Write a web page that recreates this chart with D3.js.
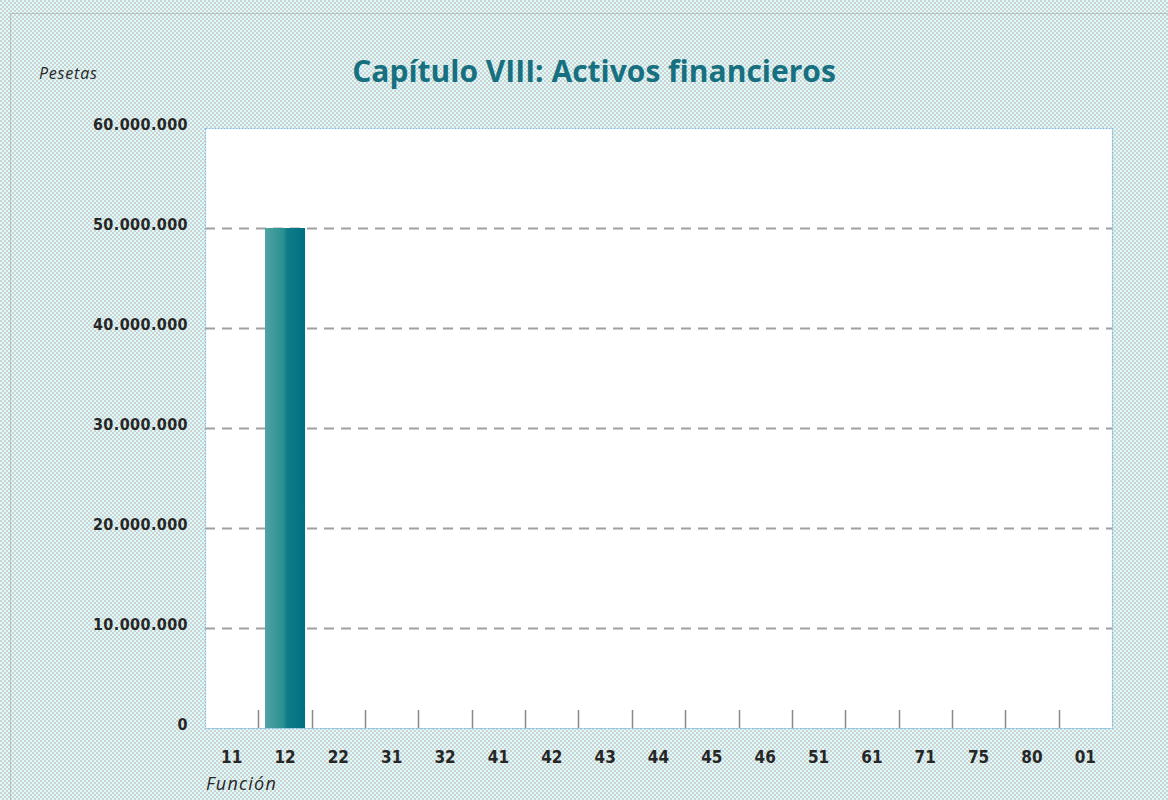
<!DOCTYPE html>
<html>
<head>
<meta charset="utf-8">
<script src="https://cdn.jsdelivr.net/npm/d3@7"></script>
<style>
  body { margin: 0; background: #fff; }
  svg { display: block; }
</style>
</head>
<body>
<svg id="chart" width="1168" height="800"></svg>
<script>
// data
var funciones = ["11", "12", "22", "31", "32", "41", "42", "43", "44", "45", "46", "51", "61", "71", "75", "80", "01"];
var pesetas = [0, 50000000, 0, 0, 0, 0, 0, 0, 0, 0, 0, 0, 0, 0, 0, 0, 0];
var yTicks = [0, 10000000, 20000000, 30000000, 40000000, 50000000, 60000000];

var svg = d3.select("#chart"),
    margin = {top: 128, right: 56, bottom: 72, left: 205},
    width = +svg.attr("width") - margin.left - margin.right,
    height = +svg.attr("height") - margin.top - margin.bottom;

var defs = svg.append("defs");

// checkered background
var pat = defs.append("pattern")
    .attr("id", "checks")
    .attr("width", 4)
    .attr("height", 4)
    .attr("patternUnits", "userSpaceOnUse");
pat.append("rect").attr("width", 4).attr("height", 4).attr("fill", "#dcfcfc");
pat.append("rect").attr("width", 2).attr("height", 2).attr("fill", "#d0d2d2");
pat.append("rect").attr("x", 2).attr("y", 2).attr("width", 2).attr("height", 2).attr("fill", "#d0d2d2");

var grad = defs.append("linearGradient")
    .attr("id", "barGrad")
    .attr("x1", "0%").attr("x2", "100%").attr("y1", "0%").attr("y2", "0%");
grad.append("stop").attr("offset", "0%").attr("stop-color", "#4fa3a3");
grad.append("stop").attr("offset", "45%").attr("stop-color", "#2b9191");
grad.append("stop").attr("offset", "55%").attr("stop-color", "#0f7d88");
grad.append("stop").attr("offset", "100%").attr("stop-color", "#006f80");

svg.append("rect")
    .attr("width", 1168).attr("height", 800)
    .attr("fill", "url(#checks)");

// outer dotted frame
svg.append("rect")
    .attr("x", 10.5).attr("y", 13.5)
    .attr("width", 1170).attr("height", 800)
    .attr("fill", "none")
    .attr("stroke", "#9a9a9a")
    .attr("stroke-dasharray", "1,1");

var g = svg.append("g").attr("transform", "translate(" + margin.left + "," + margin.top + ")");

var x = d3.scaleBand()
    .domain(funciones)
    .range([0, width])
    .paddingInner(0.25)
    .paddingOuter(0.125);

var xb = d3.scaleBand().domain(funciones).range([0, width]);

var y = d3.scaleLinear()
    .domain([0, 60000000])
    .range([height, 0]);

g.append("rect")
    .attr("width", width)
    .attr("height", height)
    .attr("fill", "#fff");

// gridlines
g.append("g")
  .selectAll("line")
  .data(yTicks.slice(1, -1))
  .enter().append("line")
    .attr("x1", 0)
    .attr("x2", width)
    .attr("y1", function(d) { return Math.round(y(d)) + 0.5; })
    .attr("y2", function(d) { return Math.round(y(d)) + 0.5; })
    .attr("stroke", "#a0a0a0")
    .attr("stroke-width", 2)
    .attr("stroke-dasharray", "10,7");

// separator ticks between categories
g.append("g")
  .selectAll("line")
  .data(funciones.slice(1))
  .enter().append("line")
    .attr("x1", function(d) { return Math.round(xb(d)) + 0.5; })
    .attr("x2", function(d) { return Math.round(xb(d)) + 0.5; })
    .attr("y1", height - 18)
    .attr("y2", height)
    .attr("stroke", "#8a8a8a")
    .attr("stroke-width", 1.5);

// bars
g.append("g")
  .selectAll("rect")
  .data(funciones.map(function(f, i) { return {f: f, v: pesetas[i]}; }))
  .enter().append("rect")
    .attr("x", function(d) { return x(d.f); })
    .attr("y", function(d) { return y(d.v); })
    .attr("width", x.bandwidth())
    .attr("height", function(d) { return height - y(d.v); })
    .attr("fill", "url(#barGrad)");

// plot frame
g.append("rect")
    .attr("x", 0.5).attr("y", 0.5)
    .attr("width", width).attr("height", height)
    .attr("fill", "none")
    .attr("stroke", "#7fb8e0")
    .attr("stroke-width", 1.2)
    .attr("stroke-dasharray", "2,1");

var fmt = d3.formatLocale({decimal: ",", thousands: ".", grouping: [3], currency: ["", ""]}).format(",");

// y axis labels
g.append("g")
    .attr("font-family", "'DejaVu Sans Condensed', 'DejaVu Sans', sans-serif")
    .attr("font-weight", "bold")
    .attr("font-size", 16)
    .attr("letter-spacing", 0.4)
    .attr("fill", "#262626")
    .attr("text-anchor", "end")
  .selectAll("text")
  .data(yTicks)
  .enter().append("text")
    .attr("x", -17)
    .attr("y", function(d) { return y(d) + 2; })
    .text(function(d) { return fmt(d); });

// x axis labels
g.append("g")
    .attr("font-family", "'DejaVu Sans Condensed', 'DejaVu Sans', sans-serif")
    .attr("font-weight", "bold")
    .attr("font-size", 17)
    .attr("fill", "#262626")
    .attr("text-anchor", "middle")
  .selectAll("text")
  .data(funciones)
  .enter().append("text")
    .attr("x", function(d) { return xb(d) + xb.bandwidth() / 2; })
    .attr("y", height + 35)
    .text(function(d) { return d; });

svg.append("text")
    .attr("x", 206)
    .attr("y", 790)
    .attr("font-family", "'Open Sans', sans-serif")
    .attr("font-style", "italic")
    .attr("font-size", 18)
    .attr("letter-spacing", 1.2)
    .attr("fill", "#262626")
    .text("Función");

svg.append("text")
    .attr("x", 39)
    .attr("y", 79)
    .attr("font-family", "'Open Sans', sans-serif")
    .attr("font-style", "italic")
    .attr("font-size", 16)
    .attr("letter-spacing", 0.8)
    .attr("fill", "#262626")
    .text("Pesetas");

svg.append("text")
    .attr("x", 594)
    .attr("y", 82)
    .attr("text-anchor", "middle")
    .attr("font-family", "'Open Sans', sans-serif")
    .attr("font-weight", "bold")
    .attr("font-size", 30)
    .attr("fill", "#16707f")
    .text("Capítulo VIII: Activos financieros");
</script>
</body>
</html>
